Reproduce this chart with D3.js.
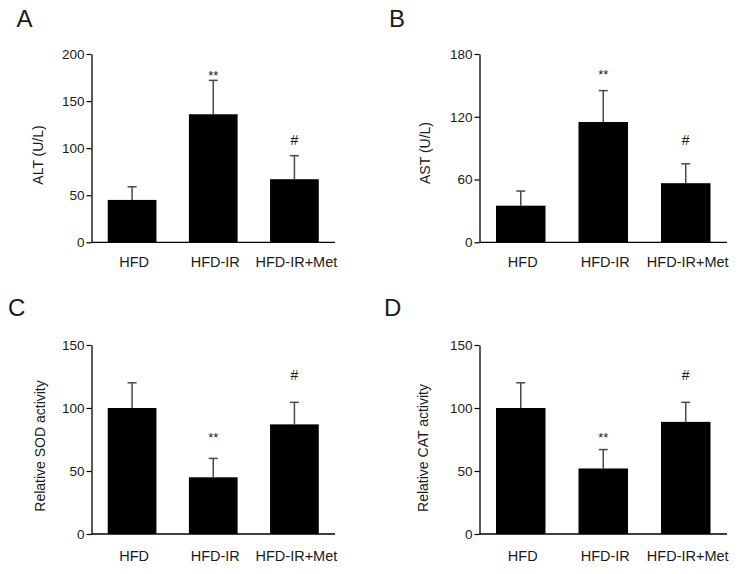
<!DOCTYPE html>
<html>
<head>
<meta charset="utf-8">
<script src="https://cdn.jsdelivr.net/npm/d3@7"></script>
<style>
  body { margin: 0; background: #fff; }
  text { font-family: "Liberation Sans", Arial, sans-serif; fill: #1a1a1a; }
</style>
</head>
<body>
<svg id="chart" width="750" height="574"></svg>
<script>
// groups on the x axis
const groups = ["HFD", "HFD-IR", "HFD-IR+Met"];

// A - ALT
const altMean = [45, 136, 67];
const altErr = [14, 36, 25];
const altTicks = [0, 50, 100, 150, 200];
// B - AST
const astMean = [35, 115, 56.5];
const astErr = [14, 30, 18.5];
const astTicks = [0, 60, 120, 180];
// C - SOD
const sodMean = [100, 45, 87];
const sodErr = [20, 15, 17.5];
const sodTicks = [0, 50, 100, 150];
// D - CAT
const catMean = [100, 52, 89];
const catErr = [20, 15, 15.5];
const catTicks = [0, 50, 100, 150];

// significance marks: [group index, symbol, y in data units]
const altSig = [[1, "**", 180], [2, "#", 109]];
const astSig = [[1, "**", 163], [2, "#", 98]];
const sodSig = [[1, "**", 79], [2, "#", 126]];
const catSig = [[1, "**", 79], [2, "#", 126]];

var svg = d3.select("#chart");

var panels = [
    { letter: "A", ylabel: "ALT (U/L)", mean: altMean, err: altErr, ticks: altTicks, sig: altSig,
      x0: 91.5, x1: 335, yTop: 54, yBot: 242.3, letterX: 16.5, letterY: 27, labX: 38, labY: 155, catY: 267 },
    { letter: "B", ylabel: "AST (U/L)", mean: astMean, err: astErr, ticks: astTicks, sig: astSig,
      x0: 479.5, x1: 727, yTop: 54, yBot: 242.3, letterX: 389, letterY: 27, labX: 425, labY: 153, catY: 267 },
    { letter: "C", ylabel: "Relative SOD activity", mean: sodMean, err: sodErr, ticks: sodTicks, sig: sodSig,
      x0: 91.5, x1: 335, yTop: 345, yBot: 534, letterX: 8, letterY: 316, labX: 40, labY: 446, catY: 561 },
    { letter: "D", ylabel: "Relative CAT activity", mean: catMean, err: catErr, ticks: catTicks, sig: catSig,
      x0: 479.5, x1: 727, yTop: 345, yBot: 534, letterX: 384, letterY: 316, labX: 423, labY: 448, catY: 561 }
];

panels.forEach(drawPanel);

function drawPanel(p) {
    var g = svg.append("g");
    var data = groups.map(function (name, i) { return { name: name, mean: p.mean[i], err: p.err[i] }; });

    var x = d3.scaleBand()
        .domain(groups)
        .range([p.x0, p.x1])
        .paddingInner(0.4)
        .paddingOuter(0.2);

    var y = d3.scaleLinear()
        .domain([0, d3.max(p.ticks)])
        .range([p.yBot, p.yTop]);

    // error bars (upper only) drawn under the bars
    var eb = g.selectAll(".err").data(data).enter().append("g").attr("class", "err")
        .attr("stroke", "#4a4a4a").attr("stroke-width", 1.5);
    eb.append("line")
        .attr("x1", function (d) { return x(d.name) + x.bandwidth() / 2; })
        .attr("x2", function (d) { return x(d.name) + x.bandwidth() / 2; })
        .attr("y1", function (d) { return y(d.mean); })
        .attr("y2", function (d) { return y(d.mean + d.err); });
    eb.append("line")
        .attr("x1", function (d) { return x(d.name) + x.bandwidth() / 2 - 4.5; })
        .attr("x2", function (d) { return x(d.name) + x.bandwidth() / 2 + 4.5; })
        .attr("y1", function (d) { return y(d.mean + d.err); })
        .attr("y2", function (d) { return y(d.mean + d.err); });

    // bars
    g.selectAll(".bar").data(data).enter().append("rect")
        .attr("class", "bar")
        .attr("x", function (d) { return x(d.name); })
        .attr("y", function (d) { return y(d.mean); })
        .attr("width", x.bandwidth())
        .attr("height", function (d) { return y(0) - y(d.mean); })
        .attr("fill", "#000");

    // y axis
    var yAxis = g.append("g")
        .attr("transform", "translate(" + p.x0 + ",0)")
        .call(d3.axisLeft(y).tickValues(p.ticks).tickSize(5).tickPadding(2).tickSizeOuter(0));
    yAxis.select(".domain").attr("stroke", "#000").attr("stroke-width", 1.3);
    yAxis.selectAll(".tick line").attr("stroke", "#000").attr("stroke-width", 1.2);
    yAxis.selectAll(".tick text")
        .style("font-family", "'Liberation Sans', Arial, sans-serif")
        .style("font-size", "13.5px")
        .attr("fill", "#1a1a1a");

    // x axis line, no ticks
    g.append("line")
        .attr("x1", p.x0).attr("x2", p.x1)
        .attr("y1", y(0)).attr("y2", y(0))
        .attr("stroke", "#000").attr("stroke-width", 1.3);

    // group labels
    g.selectAll(".cat").data(data).enter().append("text")
        .attr("class", "cat")
        .attr("x", function (d) { return x(d.name) + x.bandwidth() / 2 + 2; })
        .attr("y", p.catY)
        .attr("text-anchor", "middle")
        .style("font-size", "14.5px")
        .text(function (d) { return d.name; });

    // significance marks
    g.selectAll(".sig").data(p.sig).enter().append("text")
        .attr("class", "sig")
        .attr("x", function (s) { return x(groups[s[0]]) + x.bandwidth() / 2; })
        .attr("y", function (s) { return y(s[2]) + (s[1] == "**" ? 7.5 : 5); })
        .attr("text-anchor", "middle")
        .style("font-size", function (s) { return s[1] == "**" ? "13px" : "14px"; })
        .text(function (s) { return s[1]; });

    // y label
    g.append("text")
        .attr("transform", "translate(" + p.labX + "," + p.labY + ") rotate(-90)")
        .attr("text-anchor", "middle")
        .attr("dy", "0.35em")
        .style("font-size", "14px")
        .text(p.ylabel);

    // panel letter
    g.append("text")
        .attr("x", p.letterX)
        .attr("y", p.letterY)
        .style("font-size", "24px")
        .text(p.letter);
}
</script>
</body>
</html>
